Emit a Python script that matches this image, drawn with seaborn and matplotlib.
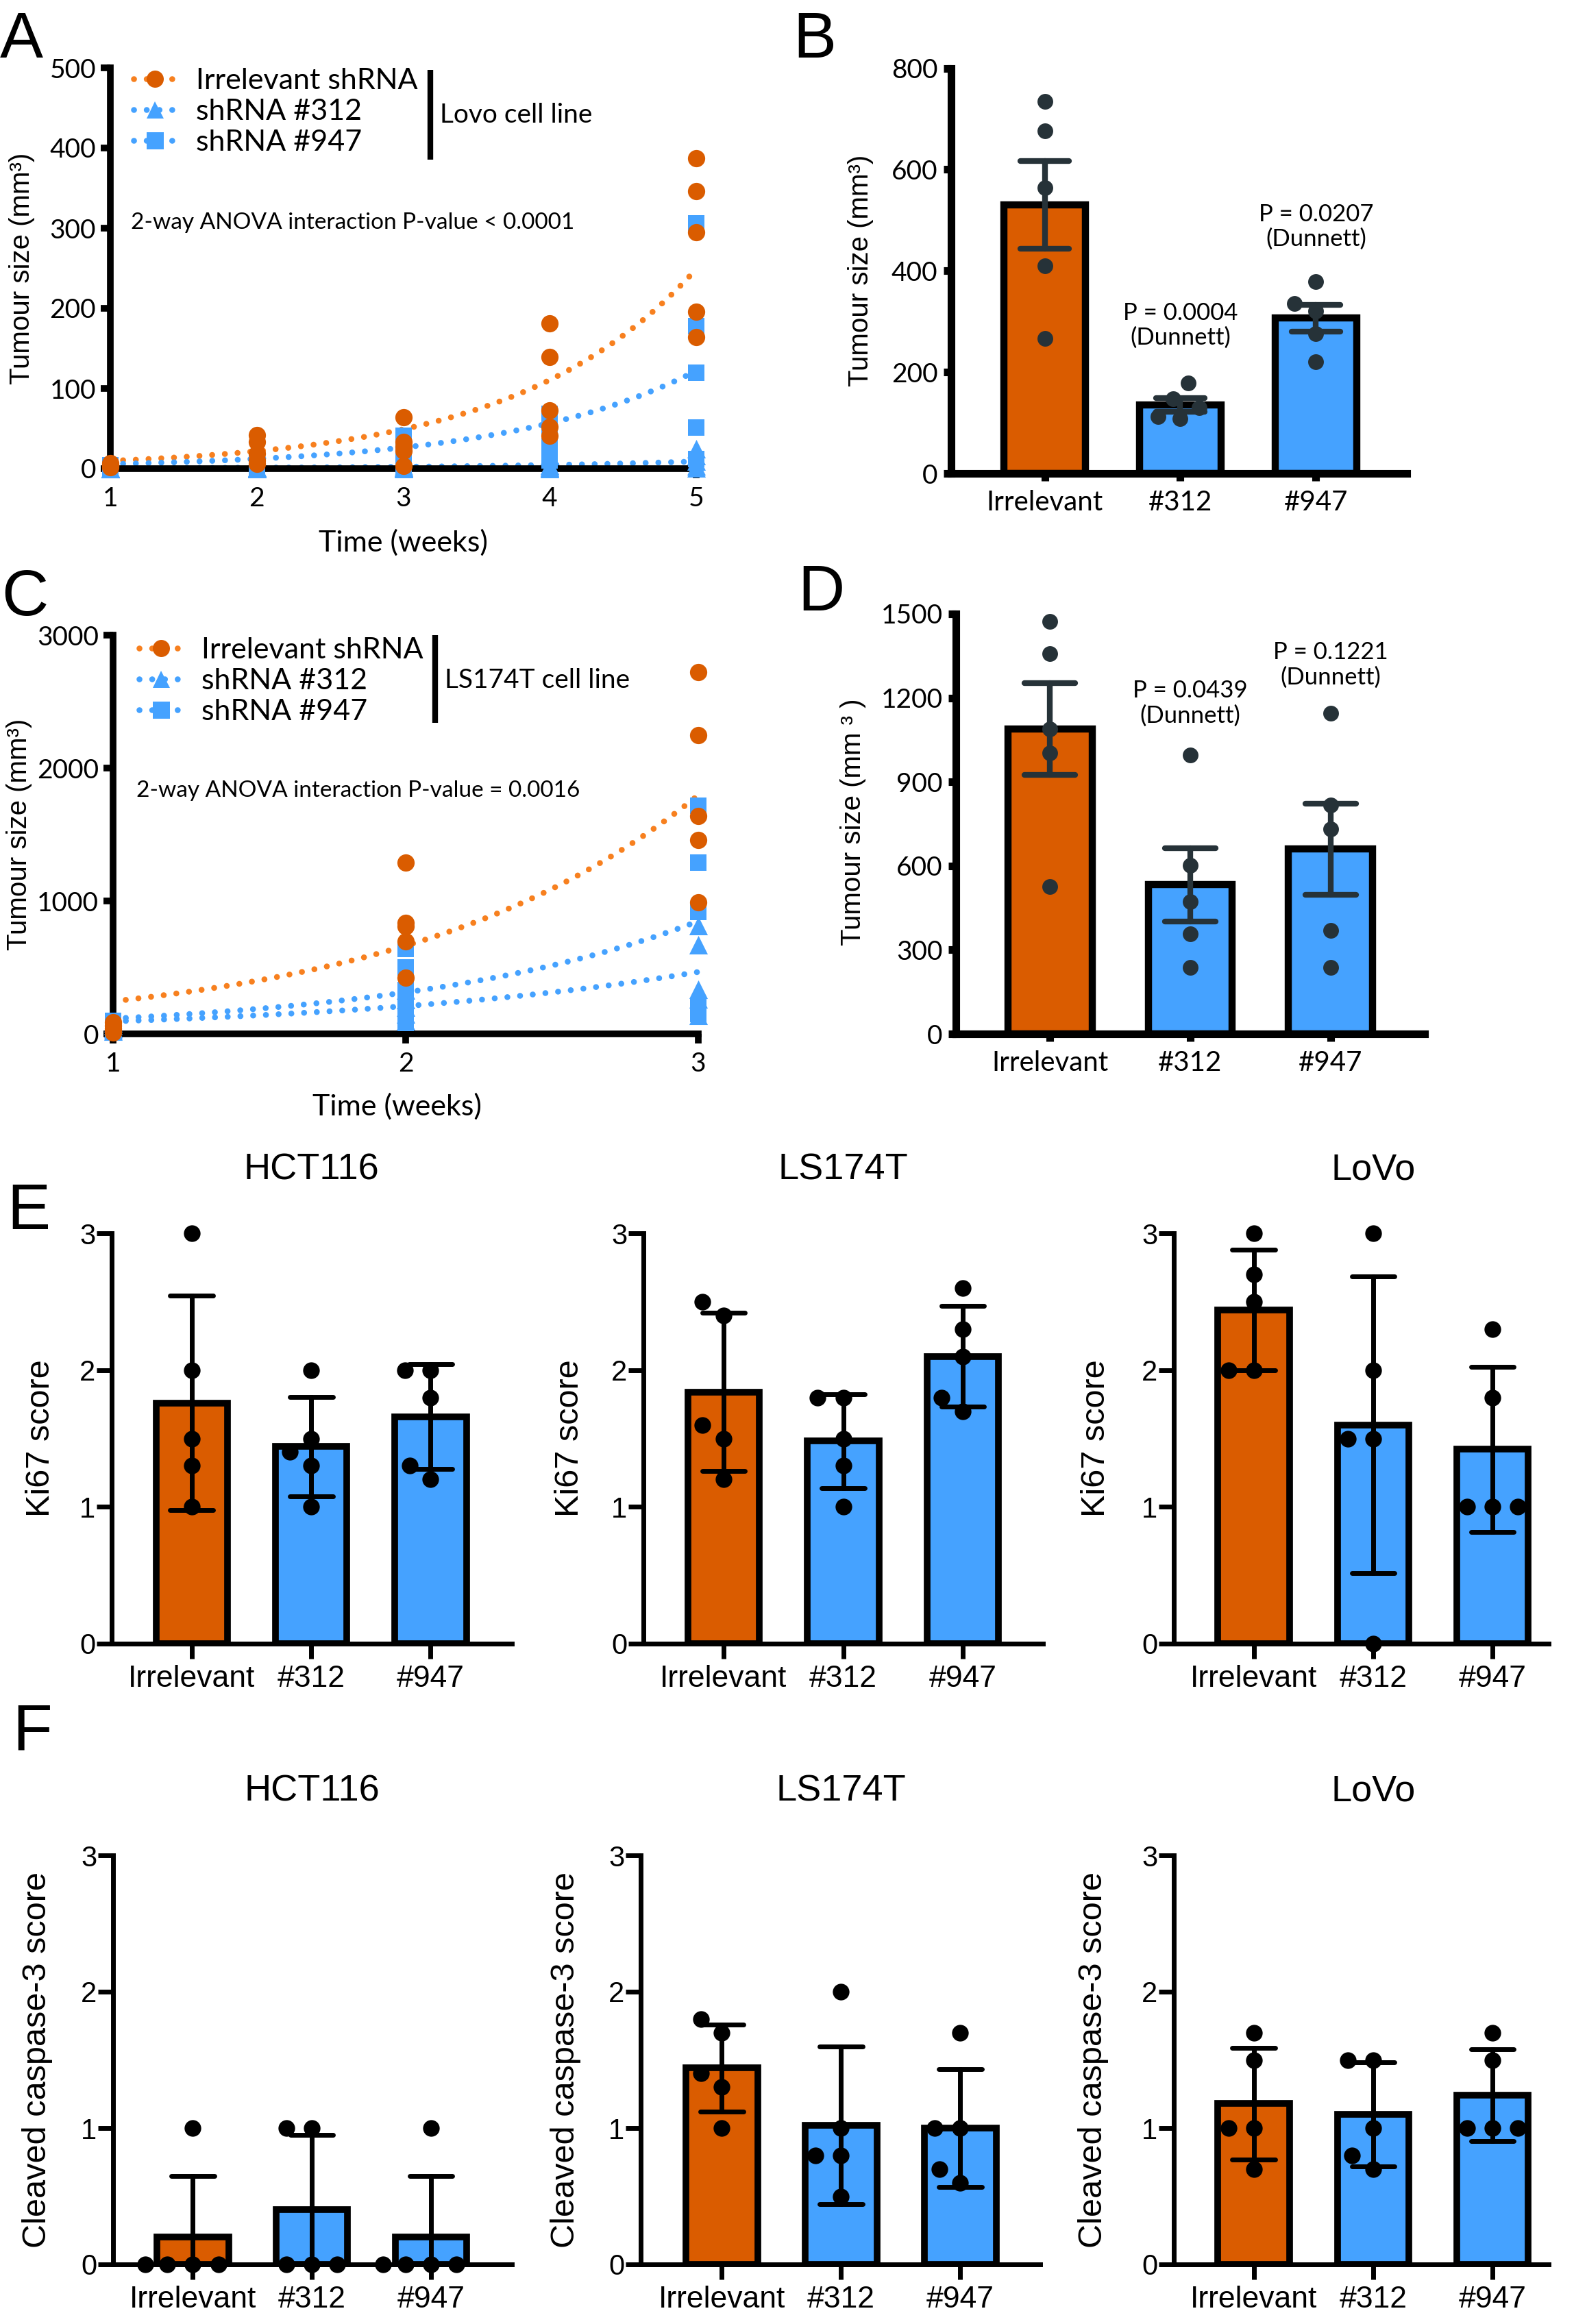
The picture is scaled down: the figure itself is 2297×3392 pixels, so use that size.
import numpy as np
import pandas as pd
import matplotlib
matplotlib.use("Agg")
import matplotlib.pyplot as plt
import seaborn as sns
from matplotlib.lines import Line2D

# ---------------- data ----------------
groups = ["Irrelevant", "#312", "#947"]
legend_labels = ["Irrelevant shRNA", "shRNA #312", "shRNA #947"]

# Panel A: LoVo xenograft growth (mm3), 5 mice per group per week
lovo_weeks = [1, 2, 3, 4, 5]
lovo_irrelevant = [[2, 3, 4, 5, 7], [42, 33, 19, 10, 6], [64, 33, 27, 22, 3],
                   [181, 139, 73, 52, 41], [387, 346, 295, 196, 164]]
lovo_sh312 = [[0, 0, 0, 0, 1], [0, 0, 1, 1, 2], [0, 1, 1, 2, 3],
              [0, 1, 2, 3, 4], [25, 16, 9, 3, 1]]
lovo_sh947 = [[0, 1, 2, 3, 4], [0, 2, 4, 6, 9], [41, 32, 22, 10, 1],
              [68, 50, 28, 20, 10], [306, 178, 120, 51, 12]]
# exponential-growth fit: fitted value at first and at last week
lovo_fit_irrelevant = [9.7, 249]
lovo_fit_sh312 = [0.6, 9]
lovo_fit_sh947 = [5.7, 122]
lovo_yticks = [0, 100, 200, 300, 400, 500]

# Panel B: LoVo final tumour size
lovo_final_irrelevant = [734, 676, 564, 410, 267]
lovo_final_sh312 = [179, 148, 130, 112, 108]
lovo_final_sh947 = [379, 335, 321, 276, 221]
lovo_pvalues = ["", "P = 0.0004\n(Dunnett)", "P = 0.0207\n(Dunnett)"]
lovo_pvalue_y = [0, 292, 487]
lovo_final_yticks = [0, 200, 400, 600, 800]

# Panel C: LS174T xenograft growth
ls_weeks = [1, 2, 3]
ls_irrelevant = [[90, 60, 40, 20, 10], [1291, 835, 810, 697, 422],
                 [2722, 2245, 1637, 1459, 989]]
ls_sh312 = [[80, 60, 40, 30, 20], [330, 260, 200, 150, 100],
            [812, 670, 333, 262, 138]]
ls_sh947 = [[100, 70, 50, 30, 10], [640, 500, 330, 200, 80],
            [1716, 1291, 918, 200, 150]]
ls_fit_irrelevant = [245, 1796]
ls_fit_sh312 = [94, 466]
ls_fit_sh947 = [115, 848]
ls_yticks = [0, 1000, 2000, 3000]

# Panel D: LS174T final tumour size
ls_final_irrelevant = [1472, 1357, 1088, 1003, 525]
ls_final_sh312 = [997, 601, 472, 358, 237]
ls_final_sh947 = [1144, 818, 732, 369, 237]
ls_pvalues = ["", "P = 0.0439\n(Dunnett)", "P = 0.1221\n(Dunnett)"]
ls_pvalue_y = [0, 1181, 1318]
ls_final_yticks = [0, 300, 600, 900, 1200, 1500]

# Panel E: Ki67 scores
cell_lines = ["HCT116", "LS174T", "LoVo"]
ki67_hct116 = [[3.0, 2.0, 1.5, 1.3, 1.0], [2.0, 1.5, 1.4, 1.3, 1.0], [2.0, 2.0, 1.8, 1.3, 1.2]]
ki67_ls174t = [[2.5, 2.4, 1.6, 1.5, 1.2], [1.8, 1.8, 1.5, 1.3, 1.0], [2.6, 2.3, 2.1, 1.8, 1.7]]
ki67_lovo = [[3.0, 2.7, 2.5, 2.0, 2.0], [3.0, 2.0, 1.5, 1.5, 0.0], [2.3, 1.8, 1.0, 1.0, 1.0]]
# Panel F: cleaved caspase-3 scores
casp3_hct116 = [[1, 0, 0, 0, 0], [1, 1, 0, 0, 0], [1, 0, 0, 0, 0]]
casp3_ls174t = [[1.8, 1.7, 1.4, 1.3, 1.0], [2.0, 1.0, 0.8, 0.8, 0.5], [1.7, 1.0, 1.0, 0.7, 0.6]]
casp3_lovo = [[1.7, 1.5, 1.0, 1.0, 0.7], [1.5, 1.5, 1.0, 0.8, 0.7], [1.7, 1.5, 1.0, 1.0, 1.0]]
score_yticks = [0, 1, 2, 3]

# ---------------- styling ----------------
ORANGE = "#DA5C00"
ORANGE_FIT = "#F7801F"
BLUE = "#45A2FF"
DARK = "#263238"
ARIAL = ["Liberation Sans", "DejaVu Sans"]
MYRIAD = ["Lato", "Liberation Sans", "DejaVu Sans"]

sns.set_theme(style="ticks")
plt.rcParams["font.family"] = ARIAL
plt.rcParams.update({"axes.edgecolor": "black", "text.color": "black",
                     "axes.labelcolor": "black", "xtick.color": "black",
                     "ytick.color": "black", "axes.facecolor": "white"})

W, H = 2297, 3392
fig = plt.figure(figsize=(W / 100, H / 100), dpi=100)
fig.patch.set_facecolor("white")


def add_ax(box):
    l, t, r, b = box
    return fig.add_axes([l / W, 1 - b / H, (r - l) / W, (b - t) / H])


def style_axes(ax, spine_lw, tick_len, tick_w, xsize, ysize, xpad, ypad, family):
    sns.despine(ax=ax)
    for s in ["left", "bottom"]:
        ax.spines[s].set_linewidth(spine_lw)
        ax.spines[s].set_color("black")
        ax.spines[s].set_capstyle("projecting")
    ax.tick_params(axis="both", direction="out", length=tick_len, width=tick_w,
                   color="black", labelcolor="black")
    ax.tick_params(axis="x", pad=xpad, labelsize=xsize)
    ax.tick_params(axis="y", pad=ypad, labelsize=ysize)
    for lab in ax.get_xticklabels() + ax.get_yticklabels():
        lab.set_fontfamily(family)
    ax.grid(False)


def set_ylabel(ax, box, text, cx, fs, yfrac=0.5):
    l, t, r, b = box
    ax.set_ylabel(text, fontsize=fs, family=ARIAL, va="center")
    ax.yaxis.set_label_coords((cx - l) / (r - l), yfrac)


def long_growth(weeks, values):
    return pd.DataFrame([(w, v) for w, vs in zip(weeks, values) for v in vs],
                        columns=["week", "size"])


def growth_panel(box, weeks, series, fits, yticks, anova, cell_text,
                 leg_anchor, anova_xy, bracket, cell_xy, xlabel_xy, ylabel_cx):
    ax = add_ax(box)
    tt = np.linspace(weeks[0], weeks[-1], 400)
    fit_colors = [ORANGE_FIT, BLUE, BLUE]
    for (y0, y1), c in zip(fits, fit_colors):
        curve = y0 * (y1 / y0) ** ((tt - weeks[0]) / (weeks[-1] - weeks[0]))
        ax.plot(tt, curve, color=c, lw=6.2, ls=(0, (0.01, 2.15)),
                dash_capstyle="round", zorder=2, clip_on=False)
    markers = ["o", "^", "s"]
    sizes = [330, 380, 300]
    colors = [ORANGE, BLUE, BLUE]
    for idx in [2, 1, 0]:
        df = long_growth(weeks, series[idx])
        sns.scatterplot(data=df, x="week", y="size", marker=markers[idx],
                        color=colors[idx], s=sizes[idx], linewidth=0, ax=ax,
                        clip_on=False, zorder=4, legend=False)
    ax.set_xlim(weeks[0], weeks[-1])
    ax.set_ylim(0, yticks[-1])
    ax.set_xticks(weeks)
    ax.set_yticks(yticks)
    style_axes(ax, 7, 10, 7, 28, 28, 9, 5, MYRIAD)
    ax.set_xlabel("Time (weeks)", fontsize=31, family=MYRIAD, va="center")
    ax.xaxis.set_label_coords(*xlabel_xy)
    set_ylabel(ax, box, "Tumour size (mm³)", ylabel_cx, 29)
    handles = []
    for idx in range(3):
        handles.append(Line2D([], [], color=fit_colors[idx], lw=6.2,
                              ls=(0, (0.01, 2.15)), dash_capstyle="round",
                              marker=markers[idx], markersize=18,
                              markerfacecolor=colors[idx], markeredgewidth=0))
    ax.legend(handles, legend_labels, loc="upper left", bbox_to_anchor=leg_anchor,
              frameon=False, prop={"family": MYRIAD, "size": 31},
              handlelength=1.45, handletextpad=0.65, labelspacing=0.16,
              borderpad=0, borderaxespad=0, numpoints=1)
    ax.text(anova_xy[0], anova_xy[1], anova, transform=ax.transAxes,
            ha="left", va="center", fontsize=24, family=MYRIAD)
    ax.plot([bracket[0], bracket[0]], [bracket[1], bracket[2]],
            transform=ax.transAxes, color="black", lw=6, clip_on=False,
            solid_capstyle="butt")
    ax.text(cell_xy[0], cell_xy[1], cell_text, transform=ax.transAxes,
            ha="left", va="center", fontsize=28, family=MYRIAD)
    return ax


def bar_panel(box, values, xr, yticks, st):
    ax = add_ax(box)
    df = pd.DataFrame([(g, v) for g, vs in zip(groups, values) for v in vs],
                      columns=["group", "value"])
    sns.barplot(data=df, x="group", y="value", hue="group", order=groups,
                hue_order=groups, palette=dict(zip(groups, [ORANGE, BLUE, BLUE])),
                saturation=1, width=0.6, errorbar=st["err"], capsize=st["cap"],
                err_kws={"color": st["errc"], "linewidth": st["errlw"]},
                edgecolor="black", linewidth=st["edge"], legend=False, ax=ax)
    sns.swarmplot(data=df, x="group", y="value", order=groups, color=st["pt"],
                  size=st["ptsize"], linewidth=st["ptpad"], edgecolor=(0, 0, 0, 0),
                  ax=ax, clip_on=False, zorder=3)
    ax.set_xlim(*xr)
    ax.set_ylim(0, yticks[-1])
    ax.set_yticks(yticks)
    ax.set_xticks(range(len(groups)))
    ax.set_xticklabels(groups)
    ax.set_xlabel("")
    style_axes(ax, st["spine"], st["tlen"], st["tw"], st["xsize"], st["ysize"],
               st["xpad"], st["ypad"], st["family"])
    return ax


tumour_style = dict(err="se", cap=0.36, errc=DARK, errlw=6, edge=7.5, pt=DARK,
                    ptsize=16.5, ptpad=6, spine=8, tlen=8, tw=8, xsize=29,
                    ysize=28, xpad=9, ypad=6, family=MYRIAD)
score_style = dict(err="sd", cap=0.36, errc="black", errlw=5, edge=7, pt="black",
                   ptsize=17.5, ptpad=8, spine=5, tlen=16, tw=5, xsize=32,
                   ysize=30, xpad=6, ypad=1, family=ARIAL)

# ---------------- Panel A ----------------
growth_panel((161, 99, 1016, 684), lovo_weeks,
             [lovo_irrelevant, lovo_sh312, lovo_sh947],
             [lovo_fit_irrelevant, lovo_fit_sh312, lovo_fit_sh947],
             lovo_yticks, "2-way ANOVA interaction P-value < 0.0001",
             "Lovo cell line", (0.040, 1.0), (0.035, 0.614),
             (0.546, 0.995, 0.771), (0.5626, 0.882), (0.5, -0.185), 32)

# ---------------- Panel B ----------------
boxB = (1388, 99.5, 2053, 691)
axB = bar_panel(boxB, [lovo_final_irrelevant, lovo_final_sh312, lovo_final_sh947],
                (-0.69, 2.67), lovo_final_yticks, tumour_style)
set_ylabel(axB, boxB, "Tumour size (mm³)", 1256, 29)
for i, (txt, yv) in enumerate(zip(lovo_pvalues, lovo_pvalue_y)):
    if txt:
        axB.text(i, yv, txt, ha="center", va="center", fontsize=25,
                 family=MYRIAD, linespacing=1.15)

# ---------------- Panel C ----------------
growth_panel((165, 927, 1019, 1509), ls_weeks,
             [ls_irrelevant, ls_sh312, ls_sh947],
             [ls_fit_irrelevant, ls_fit_sh312, ls_fit_sh947],
             ls_yticks, "2-way ANOVA interaction P-value = 0.0016",
             "LS174T cell line", (0.045, 0.995), (0.04, 0.61),
             (0.550, 1.0, 0.780), (0.567, 0.887), (0.485, -0.182), 28)

# ---------------- Panel D ----------------
boxD = (1395, 896, 2079, 1509)
axD = bar_panel(boxD, [ls_final_irrelevant, ls_final_sh312, ls_final_sh947],
                (-0.67, 2.67), ls_final_yticks, tumour_style)
set_ylabel(axD, boxD, "Tumour size (mm ³ )", 1245, 29, 0.504)
for i, (txt, yv) in enumerate(zip(ls_pvalues, ls_pvalue_y)):
    if txt:
        axD.text(i, yv, txt, ha="center", va="center", fontsize=25,
                 family=MYRIAD, linespacing=1.15)

# ---------------- Panels E and F ----------------
e_boxes = [(163, 1800, 747, 2399), (939, 1800, 1522, 2399), (1713, 1800, 2260, 2399)]
e_xr = [(-0.67, 2.68), (-0.67, 2.67), (-0.67, 2.47)]
e_label_x = [59, 832, 1600]
f_boxes = [(165, 2708, 747, 3305), (935, 2708, 1518, 3305), (1713, 2708, 2260, 3305)]
f_xr = [(-0.67, 2.68), (-0.68, 2.67), (-0.67, 2.47)]
f_label_x = [55, 825, 1596]

for box, xr, lx, vals, name in zip(e_boxes, e_xr, e_label_x,
                                    [ki67_hct116, ki67_ls174t, ki67_lovo], cell_lines):
    ax = bar_panel(box, vals, xr, score_yticks, score_style)
    set_ylabel(ax, box, "Ki67 score", lx, 35)
    ax.text(1, 1.154, name, transform=ax.get_xaxis_transform(), ha="center",
            va="center", fontsize=39)

for box, xr, lx, vals, name in zip(f_boxes, f_xr, f_label_x,
                                    [casp3_hct116, casp3_ls174t, casp3_lovo], cell_lines):
    ax = bar_panel(box, vals, xr, score_yticks, score_style)
    set_ylabel(ax, box, "Cleaved caspase-3 score", lx, 35)
    ax.text(1, 1.157, name, transform=ax.get_xaxis_transform(), ha="center",
            va="center", fontsize=39)

# ---------------- panel letters ----------------
for letter, x, yb in [("A", 0, 84), ("B", 1157, 84), ("C", 2, 898),
                      ("D", 1164, 891), ("E", 10, 1794), ("F", 18, 2554)]:
    fig.text(x / W, 1 - yb / H, letter, fontsize=68, ha="left", va="baseline",
             family=ARIAL)

fig.savefig("out.png", dpi=100, facecolor="white")
